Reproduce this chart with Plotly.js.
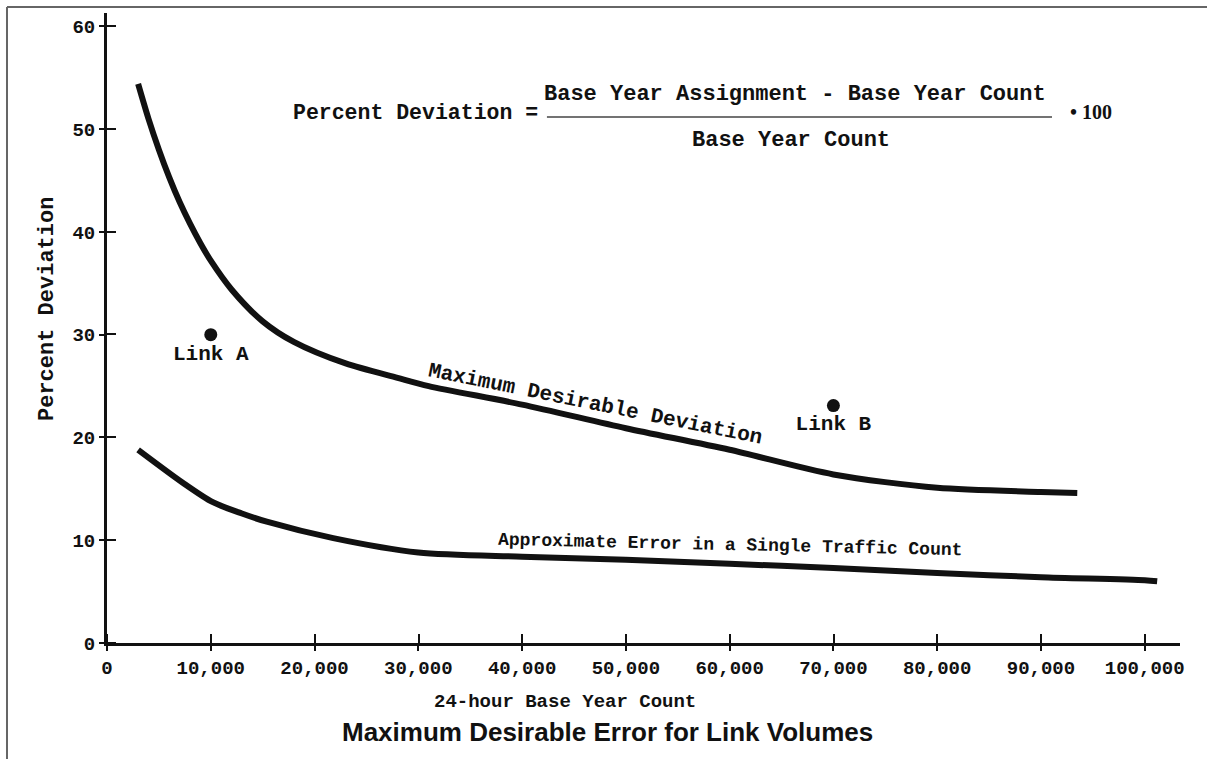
<!DOCTYPE html>
<html>
<head>
<meta charset="utf-8">
<script src="https://cdn.plot.ly/plotly-3.0.1.min.js"></script>
<style>
  html, body { margin: 0; padding: 0; background: #fff; }
  #chart { width: 1207px; height: 759px; }
</style>
</head>
<body>
<div id="chart"></div>
<script>
// ---- data ----
const xTickVals = [0, 10000, 20000, 30000, 40000, 50000, 60000, 70000, 80000, 90000, 100000];
const xTickText = ["0", "10,000", "20,000", "30,000", "40,000", "50,000", "60,000", "70,000", "80,000", "90,000", "100,000"];
const yTickVals = [0, 10, 20, 30, 40, 50, 60];

const maxDevX = [3000, 4000, 5000, 6000, 7000, 8000, 9000, 10000, 12000, 15000, 18000, 23000, 28000, 31000, 40000, 50000, 60000, 70000, 80000, 90000, 93500];
const maxDevY = [54.4, 51.0, 48.0, 45.3, 42.9, 40.8, 38.9, 37.2, 34.4, 31.3, 29.3, 27.2, 25.8, 25.0, 23.2, 20.9, 18.8, 16.4, 15.1, 14.7, 14.6];

const countErrX = [3000, 7300, 10200, 13000, 15400, 21800, 30000, 40000, 50000, 60000, 70000, 80000, 90000, 100000, 101200];
const countErrY = [18.8, 15.6, 13.7, 12.6, 11.8, 10.2, 8.8, 8.4, 8.1, 7.7, 7.3, 6.8, 6.4, 6.1, 6.0];

const linkNames = ["Link A", "Link B"];
const linkX = [10000, 70000];
const linkY = [30, 23.1];

// ---- styling ----
const ink = "#111111";
const mono = "Liberation Mono, Courier New, monospace";
const serif = "Liberation Serif, Times New Roman, serif";
const xRange = [0, 103400];
const yRange = [0, 61.3];

const traces = [
  {
    x: maxDevX, y: maxDevY, type: "scatter", mode: "lines",
    line: { color: ink, width: 6, shape: "spline", smoothing: 0.8 },
    hoverinfo: "skip", showlegend: false
  },
  {
    x: countErrX, y: countErrY, type: "scatter", mode: "lines",
    line: { color: ink, width: 6, shape: "spline", smoothing: 0.8 },
    hoverinfo: "skip", showlegend: false
  },
  {
    x: linkX, y: linkY, text: linkNames, type: "scatter", mode: "markers+text",
    textposition: "bottom center",
    textfont: { family: mono, size: 21, color: ink, weight: "bold" },
    marker: { color: ink, size: 13 },
    hoverinfo: "skip", showlegend: false
  }
];

const baseAxis = {
  showgrid: false, zeroline: false,
  showline: true, linecolor: ink, linewidth: 3,
  ticks: "outside", ticklen: 5, tickwidth: 2, tickcolor: ink,
  tickfont: { family: mono, size: 19, color: ink, weight: "bold" },
  fixedrange: true
};

const layout = {
  width: 1207, height: 759,
  margin: { l: 107, r: 27, t: 13, b: 116 },
  paper_bgcolor: "#ffffff", plot_bgcolor: "#ffffff",
  showlegend: false,
  xaxis: Object.assign({}, baseAxis, {
    range: xRange, tickmode: "array", tickvals: xTickVals, ticktext: xTickText,
    // inner half of the "+" shaped tick marks
    minor: { ticks: "inside", ticklen: 9, tickwidth: 2, tickcolor: ink,
             tickmode: "linear", tick0: 30, dtick: 10000, showgrid: false }
  }),
  yaxis: Object.assign({}, baseAxis, {
    range: yRange, tickmode: "array", tickvals: yTickVals,
    minor: { ticks: "inside", ticklen: 9, tickwidth: 2, tickcolor: ink,
             tickmode: "linear", tick0: 0.03, dtick: 10, showgrid: false }
  }),
  annotations: [
    { text: "Percent Deviation", xref: "paper", yref: "paper", x: -0.056, y: 0.53,
      xanchor: "center", yanchor: "middle", textangle: -90, showarrow: false,
      font: { family: mono, size: 22, color: ink, weight: "bold" } },
    { text: "24-hour Base Year Count", xref: "paper", yref: "paper", x: 0.4268, y: -0.0937,
      xanchor: "center", yanchor: "middle", showarrow: false,
      font: { family: mono, size: 19, color: ink, weight: "bold" } },
    { text: "Maximum Desirable Error for Link Volumes", xref: "paper", yref: "paper", x: 0.466, y: -0.1413,
      xanchor: "center", yanchor: "middle", showarrow: false,
      font: { family: "Liberation Sans, Arial, sans-serif", size: 26, color: ink, weight: "bold" } },
    { text: "Percent Deviation =", xref: "paper", yref: "paper", x: 0.4035, y: 0.841,
      xanchor: "right", yanchor: "middle", showarrow: false,
      font: { family: mono, size: 21.5, color: ink, weight: "bold" } },
    { text: "Base Year Assignment - Base Year Count", xref: "paper", yref: "paper", x: 0.641, y: 0.870,
      xanchor: "center", yanchor: "middle", showarrow: false,
      font: { family: mono, size: 22, color: ink, weight: "bold" } },
    { text: "Base Year Count", xref: "paper", yref: "paper", x: 0.6375, y: 0.798,
      xanchor: "center", yanchor: "middle", showarrow: false,
      font: { family: mono, size: 22, color: ink, weight: "bold" } },
    { text: "\u2022\u00a0100", xref: "paper", yref: "paper", x: 0.8956, y: 0.843,
      xanchor: "left", yanchor: "middle", showarrow: false,
      font: { family: serif, size: 20, color: ink, weight: "bold" } },
    { text: "Maximum Desirable Deviation", xref: "paper", yref: "paper", x: 0.4548, y: 0.3778,
      xanchor: "center", yanchor: "middle", textangle: 11.5, showarrow: false,
      font: { family: mono, size: 21, color: ink, weight: "bold" } },
    { text: "Approximate Error in a Single Traffic Count", xref: "paper", yref: "paper", x: 0.5806, y: 0.1556,
      xanchor: "center", yanchor: "middle", textangle: 1.3, showarrow: false,
      font: { family: mono, size: 18, color: ink, weight: "bold" } }
  ],
  shapes: [
    // fraction bar
    { type: "line", xref: "paper", yref: "paper", x0: 0.410, x1: 0.8807, y0: 0.835, y1: 0.835,
      line: { color: "#444444", width: 1.5 } },
    // scan frame: top and left edges
    { type: "line", xref: "paper", yref: "paper", x0: -0.0932, x1: 1.03, y0: 1.0095, y1: 1.0095,
      line: { color: "#666666", width: 2 } },
    { type: "line", xref: "paper", yref: "paper", x0: -0.0932, x1: -0.0932, y0: 1.0095, y1: -0.19,
      line: { color: "#666666", width: 2 } }
  ]
};

Plotly.newPlot("chart", traces, layout, { displayModeBar: false, staticPlot: true });
</script>
</body>
</html>
